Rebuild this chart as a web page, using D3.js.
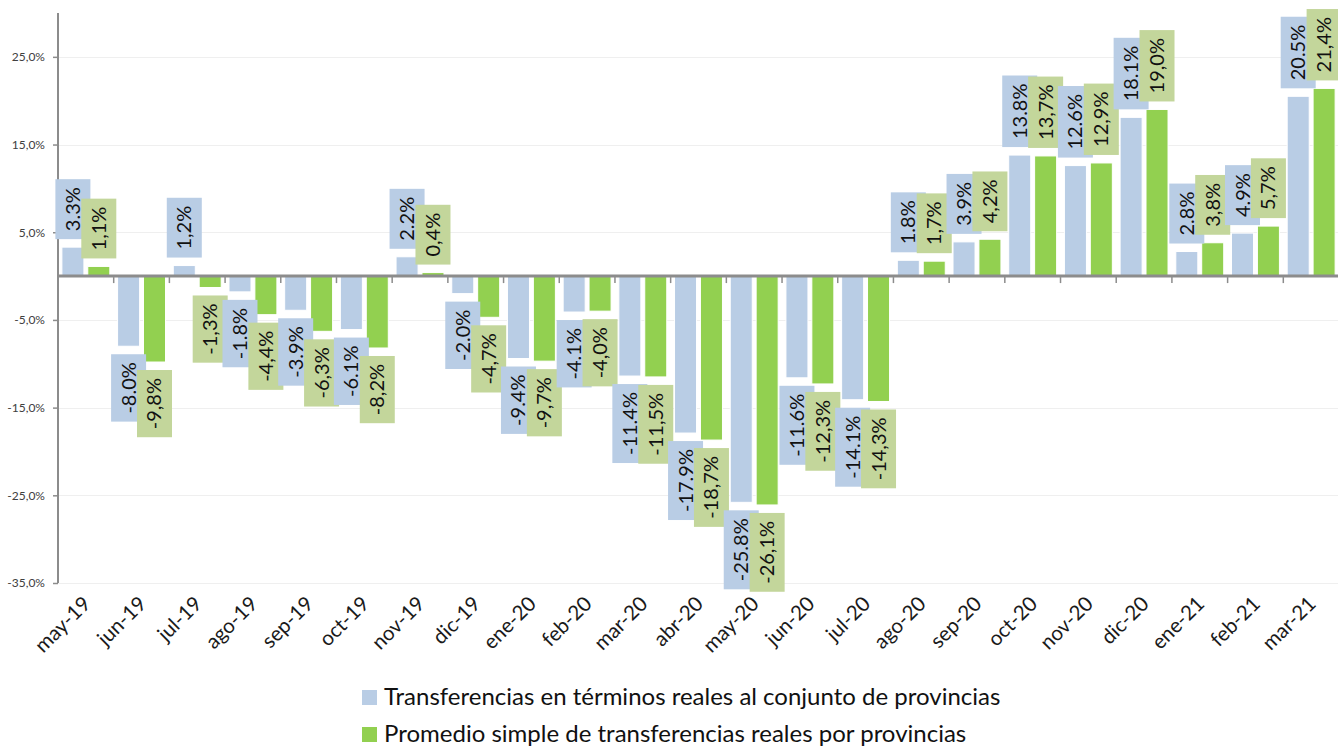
<!DOCTYPE html>
<html>
<head>
<meta charset="utf-8" />
<title>Transferencias reales a provincias</title>
<script src="https://d3js.org/d3.v7.min.js"></script>
<style>
body { margin: 0; background-color: white; }
svg { display: block; font-family: Lato, "Liberation Sans", sans-serif; }
.grid line { stroke: #efefef; stroke-width: 1px; }
.ylab { font-size: 12px; fill: #404040; }
.xlab { font-size: 20.5px; fill: #1a1a1a; }
.lbl { font-size: 20px; fill: #111; }
.legend text { font-size: 24px; fill: #111; }
</style>
</head>
<body>
<div id="chart"></div>
<script>
var months = ["may-19","jun-19","jul-19","ago-19","sep-19","oct-19","nov-19","dic-19",
              "ene-20","feb-20","mar-20","abr-20","may-20","jun-20","jul-20","ago-20",
              "sep-20","oct-20","nov-20","dic-20","ene-21","feb-21","mar-21"];

// transferencias en terminos reales al conjunto (%)
var conjunto = [3.3, -8.0, 1.2, -1.8, -3.9, -6.1, 2.2, -2.0, -9.4, -4.1, -11.4, -17.9,
                -25.8, -11.6, -14.1, 1.8, 3.9, 13.8, 12.6, 18.1, 2.8, 4.9, 20.5];
// promedio simple por provincias (%)
var promedio = [1.1, -9.8, -1.3, -4.4, -6.3, -8.2, 0.4, -4.7, -9.7, -4.0, -11.5, -18.7,
                -26.1, -12.3, -14.3, 1.7, 4.2, 13.7, 12.9, 19.0, 3.8, 5.7, 21.4];

var conjuntoLabels = ["3.3%","-8.0%","1,2%","-1.8%","-3.9%","-6.1%","2.2%","-2.0%","-9.4%","-4.1%",
                      "-11.4%","-17.9%","-25.8%","-11.6%","-14.1%","1.8%","3.9%","13.8%","12.6%",
                      "18.1%","2.8%","4.9%","20.5%"];
var promedioLabels = ["1,1%","-9,8%","-1,3%","-4,4%","-6,3%","-8,2%","0,4%","-4,7%","-9,7%","-4,0%",
                      "-11,5%","-18,7%","-26,1%","-12,3%","-14,3%","1,7%","4,2%","13,7%","12,9%",
                      "19,0%","3,8%","5,7%","21,4%"];

var yTicks = [-35, -25, -15, -5, 5, 15, 25];

var seriesNames = ["Transferencias en términos reales al conjunto de provincias",
                   "Promedio simple de transferencias reales por provincias"];
var barColors = ["#b9cde5", "#92d050"];
var boxColors = ["#b9cde5", "#c3d69b"];

var width = 1338, height = 747;
var mLeft = 58, mRight = 1339, mTop = 13, mBottom = 583;

var svg = d3.select("#chart").append("svg")
    .attr("width", width).attr("height", height);

var x = d3.scaleBand().domain(months).range([mLeft, mRight]);
var xs = d3.scaleBand().domain([0, 1]).range([0, x.bandwidth()])
    .paddingInner(0.15).paddingOuter(0.15);
var y = d3.scaleLinear().domain([-35, 30]).range([mBottom, mTop]);

// grid
svg.append("g").attr("class", "grid").selectAll("line")
    .data(yTicks).enter().append("line")
    .attr("x1", mLeft).attr("x2", width)
    .attr("y1", function(d) { return Math.round(y(d)) + 0.5; })
    .attr("y2", function(d) { return Math.round(y(d)) + 0.5; });

// y axis
var yAxis = d3.axisLeft(y).tickValues(yTicks).tickSize(5).tickPadding(8)
    .tickFormat(function(d) { return d.toFixed(1).replace(".", ",") + "%"; });
var gy = svg.append("g").attr("transform", "translate(" + mLeft + ",0)").call(yAxis);
gy.select(".domain").attr("stroke", "#8c8c8c").attr("stroke-width", 2)
    .attr("d", "M0," + mTop + "V" + mBottom);
gy.selectAll(".tick line").attr("stroke", "#8c8c8c").attr("stroke-width", 1.5);
gy.attr("font-family", null).attr("font-size", null);
gy.selectAll(".tick text").attr("class", "ylab");

var series = [conjunto, promedio];
var labels = [conjuntoLabels, promedioLabels];

// bars
series.forEach(function(vals, s) {
    svg.append("g").selectAll("rect")
        .data(vals).enter().append("rect")
        .attr("x", function(d, i) { return x(months[i]) + xs(s); })
        .attr("width", xs.bandwidth())
        .attr("y", function(d) { return Math.min(y(d), y(0)); })
        .attr("height", function(d) { return Math.abs(y(d) - y(0)); })
        .attr("fill", barColors[s])
        .attr("stroke", "white").attr("stroke-width", 1);
});

// zero axis with category ticks
var gx = svg.append("g").attr("transform", "translate(0," + y(0) + ")");
gx.append("line").attr("x1", mLeft).attr("x2", width).attr("y1", 0).attr("y2", 0)
    .attr("stroke", "#8c8c8c").attr("stroke-width", 3);
gx.selectAll(".sep").data(months.slice(1)).enter().append("line")
    .attr("x1", function(d) { return x(d); }).attr("x2", function(d) { return x(d); })
    .attr("y1", 1).attr("y2", 7)
    .attr("stroke", "#8c8c8c").attr("stroke-width", 1.5);

// data labels, category by category
var lg = svg.append("g");
months.forEach(function(m, i) {
    [0, 1].forEach(function(s) {
        var v = series[s][i];
        var cx = x(m) + xs(s) + xs.bandwidth() / 2;
        var g = lg.append("g");
        var t = g.append("text").attr("class", "lbl").text(labels[s][i])
            .attr("text-anchor", "middle").attr("dy", "0.35em");
        var len = t.node().getComputedTextLength();
        var h = len + 16, w = 35;
        var cy = v >= 0 ? y(v) - 8 - h / 2 : y(v) + 8 + h / 2;
        g.insert("rect", "text")
            .attr("x", cx - w / 2).attr("y", cy - h / 2)
            .attr("width", w).attr("height", h)
            .attr("fill", boxColors[s]);
        t.attr("transform", "translate(" + cx + "," + cy + ") rotate(-90)");
    });
});

// month labels
svg.append("g").selectAll("text")
    .data(months).enter().append("text")
    .attr("class", "xlab")
    .attr("text-anchor", "end")
    .attr("transform", function(d) {
        return "translate(" + (x(d) + x.bandwidth() / 2 + 6) + ",605) rotate(-45)";
    })
    .text(function(d) { return d; });

// legend
var leg = svg.append("g").attr("class", "legend");
seriesNames.forEach(function(name, s) {
    var ly = 697 + s * 37;
    leg.append("rect").attr("x", 362).attr("y", ly - 7).attr("width", 15).attr("height", 15)
        .attr("fill", barColors[s]);
    leg.append("text").attr("x", 384).attr("y", ly).attr("dy", "0.33em").text(name);
});
</script>
</body>
</html>
